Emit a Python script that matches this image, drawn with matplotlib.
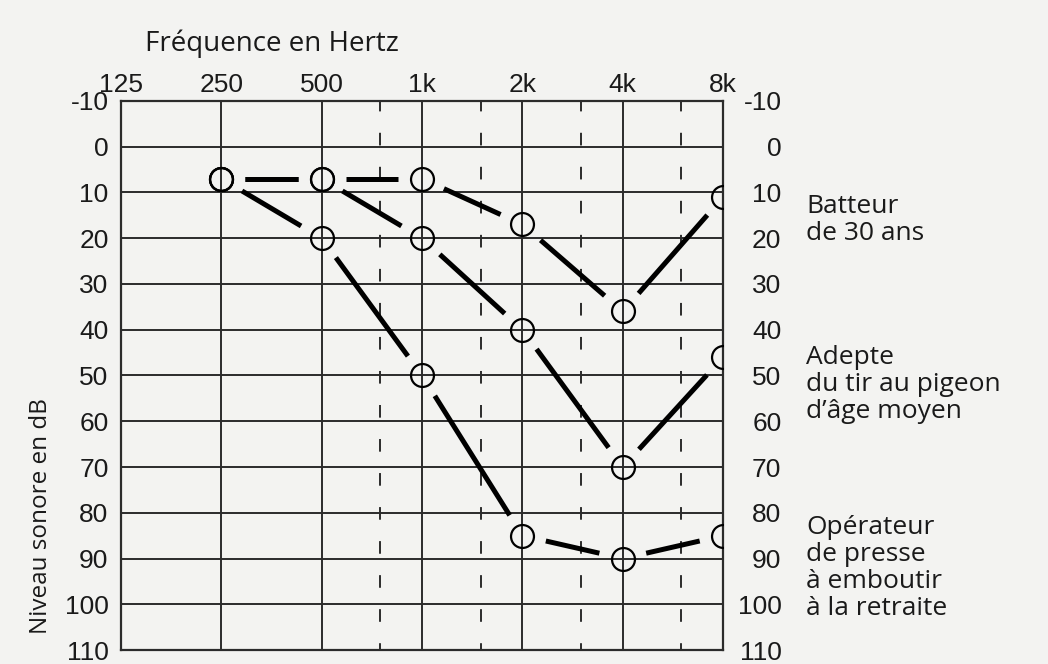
import numpy as np
import matplotlib.pyplot as plt

freqs = [125, 250, 500, 1000, 2000, 4000, 8000]
freq_labels = ['125', '250', '500', '1k', '2k', '4k', '8k']
half_octaves = [750, 1500, 3000, 6000]
db_ticks = list(range(-10, 111, 10))

# hearing thresholds (dB) at 250 .. 8k
curve_freqs = [250, 500, 1000, 2000, 4000, 8000]
batteur = [7, 7, 7, 17, 36, 11]
adepte = [7, 7, 20, 40, 70, 46]
operateur = [7, 20, 50, 85, 90, 85]
curves = [batteur, adepte, operateur]

labels = ['Batteur\nde 30 ans',
          'Adepte\ndu tir au pigeon\nd\u2019âge moyen',
          'Opérateur\nde presse\nà emboutir\nà la retraite']
label_db = [16, 52, 92]

num_font = 'Liberation Sans'
txt_font = 'Open Sans'
grid_col = '#2b2b2b'
bg = '#f3f3f1'
fs_num = 19
fs_txt = 19

fig = plt.figure(figsize=(10.48, 6.64), dpi=100, facecolor=bg)
ax = fig.add_axes([0.1155, 0.021, 0.5745, 0.827])
ax.set_facecolor(bg)
ax.set_xscale('log', base=2)
ax.set_xlim(125, 8000)
ax.set_ylim(110, -10)

# grid
for d in db_ticks:
    ax.axhline(d, color=grid_col, lw=1.4, zorder=1)
for f in freqs:
    ax.axvline(f, color=grid_col, lw=1.4, zorder=1)
for f in half_octaves:
    ax.axvline(f, color=grid_col, lw=1.4, ls=(3, (6.5, 11)), zorder=1)
for s in ax.spines.values():
    s.set_color(grid_col)
    s.set_linewidth(1.6)

ax.xaxis.tick_top()
ax.set_xticks(freqs)
ax.set_xticklabels(freq_labels)
ax.xaxis.set_minor_locator(plt.NullLocator())
ax.set_yticks(db_ticks)
ax.set_yticklabels([str(d) for d in db_ticks])
ax.tick_params(length=0, labelsize=fs_num, colors='#1a1a1a')
ax.tick_params(axis='x', pad=3)
ax.tick_params(axis='y', pad=9)
for lab in ax.get_xticklabels() + ax.get_yticklabels():
    lab.set_fontfamily(num_font)

ax2 = ax.twinx()
ax2.set_ylim(110, -10)
ax2.set_yticks(db_ticks)
ax2.set_yticklabels([str(d) for d in db_ticks])
ax2.tick_params(length=0, labelsize=fs_num, pad=42, colors='#1a1a1a')
for lab in ax2.get_yticklabels():
    lab.set_fontfamily(num_font)
    lab.set_horizontalalignment('right')
for s in ax2.spines.values():
    s.set_visible(False)

ax.set_title('Fréquence en Hertz', fontsize=20, fontfamily=txt_font,
             x=0.25, y=1.0, pad=36, color='#1a1a1a')
ax.set_ylabel('Niveau sonore en dB', fontsize=17.5, fontfamily=txt_font,
              color='#1a1a1a')
ax.yaxis.set_label_coords(-0.113, 0.245)

# curves: segments with gaps around the circles
gap = 24
tr = ax.transData
for vals in curves:
    pts = tr.transform(np.column_stack([curve_freqs, vals]))
    for p0, p1 in zip(pts[:-1], pts[1:]):
        v = p1 - p0
        u = v / np.hypot(*v)
        a = tr.inverted().transform([p0 + u * gap, p1 - u * gap])
        ax.plot(a[:, 0], a[:, 1], color='black', lw=3.6,
                solid_capstyle='butt', zorder=3)
    ax.plot(curve_freqs, vals, ls='none', marker='o', ms=16.5,
            mfc='none', mec='black', mew=1.6, zorder=4)

for txt, d in zip(labels, label_db):
    ax.text(1.138, d, txt, transform=ax.get_yaxis_transform(),
            fontsize=fs_txt, fontfamily=txt_font, va='center', ha='left',
            linespacing=1.1, color='#1a1a1a')

fig.savefig('out.png', dpi=100, facecolor=bg)
